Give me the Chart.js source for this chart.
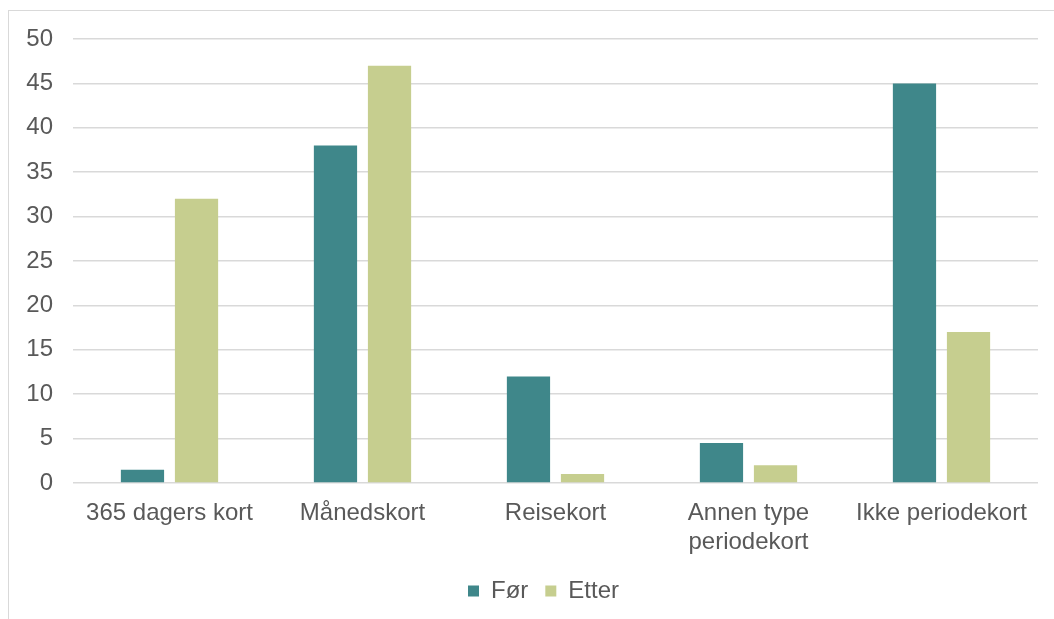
<!DOCTYPE html>
<html>
<head>
<meta charset="utf-8">
<script src="https://cdn.jsdelivr.net/npm/chart.js@4"></script>
<style>
  html, body { margin: 0; padding: 0; background: #ffffff; }
  #wrap { position: relative; width: 1054px; height: 619px; overflow: hidden; }
  #frame { position: absolute; left: 8px; top: 10px; width: 1060px; height: 620px; border: 1px solid #d9d9d9; box-sizing: border-box; }
  canvas { position: absolute; left: 0; top: 0; }
</style>
</head>
<body>
<div id="wrap">
  <div id="frame"></div>
  <canvas id="c" width="1054" height="619"></canvas>
</div>
<script>
// Card types and survey shares (%) before and after
const categories = ['365 dagers kort', 'Månedskort', 'Reisekort', ['Annen type', 'periodekort'], 'Ikke periodekort'];
const forValues = [1.5, 38, 12, 4.5, 45];
const etterValues = [32, 47, 1, 2, 17];
const yTicks = [0, 5, 10, 15, 20, 25, 30, 35, 40, 45, 50];

const textColor = '#595959';
const fontFamily = '"Liberation Sans", Arial, sans-serif';

// Place the legend slightly left of the plot-area center
const legendShift = {
  id: 'legendShift',
  afterLayout(chart) {
    const lg = chart.legend;
    if (!lg) return;
    const area = chart.chartArea;
    const target = (area.left + area.right) / 2 - 12;
    const dx = target - (lg.left + lg.right) / 2;
    lg.left += dx;
    lg.right += dx;
  }
};

new Chart(document.getElementById('c'), {
  type: 'bar',
  data: {
    labels: categories,
    datasets: [
      { label: 'Før', data: forValues, backgroundColor: '#3f878a', borderWidth: 0 },
      { label: 'Etter', data: etterValues, backgroundColor: '#c6ce8f', borderWidth: 0 }
    ]
  },
  options: {
    responsive: false,
    animation: false,
    devicePixelRatio: 1,
    layout: { padding: { left: 0, right: 16, top: 39, bottom: 6 } },
    datasets: { bar: { categoryPercentage: 0.56, barPercentage: 0.8 } },
    scales: {
      x: {
        grid: { display: false },
        border: { display: false },
        ticks: { color: textColor, font: { family: fontFamily, size: 24, lineHeight: 1.2 }, padding: 8, maxRotation: 0, autoSkip: false },
        afterFit: s => { s.height = 79; }
      },
      y: {
        min: 0, max: 50,
        afterBuildTicks: s => { s.ticks = yTicks.map(v => ({ value: v })); },
        grid: { color: '#d9d9d9', lineWidth: 1.5, drawTicks: false },
        border: { display: false },
        ticks: { color: textColor, font: { family: fontFamily, size: 24 }, padding: 20 },
        afterFit: s => { s.width = 73; }
      }
    },
    plugins: {
      legend: {
        position: 'bottom',
        labels: { color: textColor, font: { family: fontFamily, size: 24 }, boxWidth: 11, boxHeight: 11, padding: 17 }
      },
      tooltip: { enabled: false }
    }
  },
  plugins: [legendShift]
});
</script>
</body>
</html>
